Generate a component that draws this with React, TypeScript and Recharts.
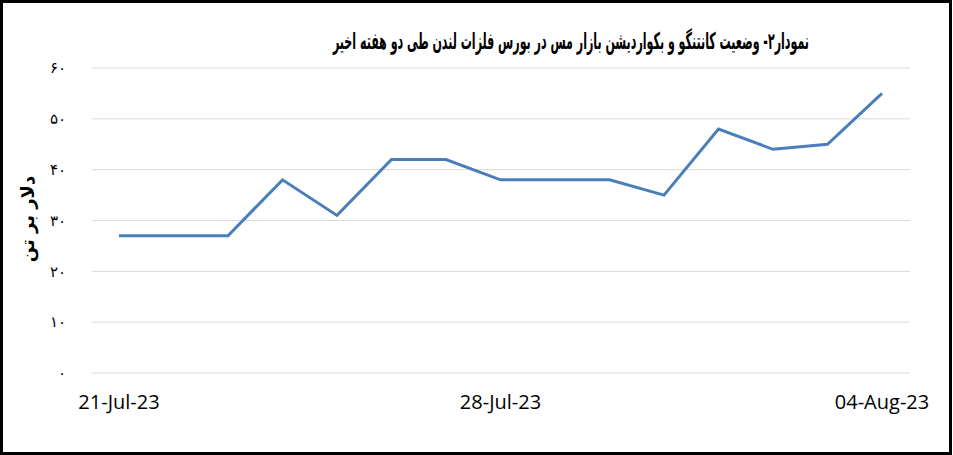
import { LineChart, Line, XAxis, YAxis, CartesianGrid } from 'recharts'

const DATES = [
  '21-Jul-23', '22-Jul-23', '23-Jul-23', '24-Jul-23', '25-Jul-23',
  '26-Jul-23', '27-Jul-23', '28-Jul-23', '29-Jul-23', '30-Jul-23',
  '31-Jul-23', '01-Aug-23', '02-Aug-23', '03-Aug-23', '04-Aug-23',
]
const SPREAD = [27, 27, 27, 38, 31, 42, 42, 38, 38, 38, 35, 48, 44, 45, 55]
const Y_TICKS = [0, 10, 20, 30, 40, 50, 60]
const Y_LABELS = ['۰', '۱۰', '۲۰', '۳۰', '۴۰', '۵۰', '۶۰']

const TITLE = 'نمودار۲- وضعیت کانتنگو و بکواردیشن بازار مس در بورس فلزات لندن طی دو هفته اخیر'
const Y_TITLE = 'دلار بر تن'

const data = DATES.map((d, i) => ({ date: d, value: SPREAD[i] }))

const persianFont = '"DejaVu Sans", sans-serif'

export default function App() {
  return (
    <div style={{ position: 'absolute', left: 0, top: 0, width: 953, height: 455, background: '#fff' }}>
      <LineChart width={953} height={455} data={data} margin={{ top: 68, right: 43, bottom: 52, left: 0 }}>
        <CartesianGrid vertical={false} stroke="#d9d9d9" />
        <XAxis
          dataKey="date"
          axisLine={false}
          tickLine={false}
          interval={6}
          padding={{ left: 27, right: 28 }}
          height={30}
          tickMargin={16}
          tick={{ fill: '#000', fontSize: 20, fontFamily: '"Open Sans", sans-serif' }}
        />
        <YAxis
          domain={[0, 60]}
          ticks={Y_TICKS}
          width={92}
          axisLine={false}
          tickLine={false}
          tickMargin={20}
          tickFormatter={(v: number) => Y_LABELS[Y_TICKS.indexOf(v)]}
          tick={{ fill: '#000', fontSize: 15, fontFamily: persianFont }}
          label={{
            content: () => (
              <text
                x={27}
                y={219}
                transform="rotate(-90, 27, 219)"
                textAnchor="middle"
                dominantBaseline="central"
                fontFamily={persianFont}
                fontWeight="bold"
                fontSize={18}
                fill="#000"
              >
                {Y_TITLE}
              </text>
            ),
          }}
        />
        <Line
          type="linear"
          dataKey="value"
          stroke="#4a7ebb"
          strokeWidth={3}
          dot={false}
          isAnimationActive={false}
        />
      </LineChart>
      <svg width={953} height={455} style={{ position: 'absolute', left: 0, top: 0, pointerEvents: 'none' }}>
        <text
          x={571}
          y={41}
          textAnchor="middle"
          dominantBaseline="central"
          direction="rtl"
          fontFamily={persianFont}
          fontWeight="bold"
          fontSize={23}
          textLength={476}
          lengthAdjust="spacingAndGlyphs"
          fill="#000"
        >
          {TITLE}
        </text>
        <rect x={1.5} y={1.5} width={949} height={452} fill="none" stroke="#000" strokeWidth={3} />
      </svg>
    </div>
  )
}
